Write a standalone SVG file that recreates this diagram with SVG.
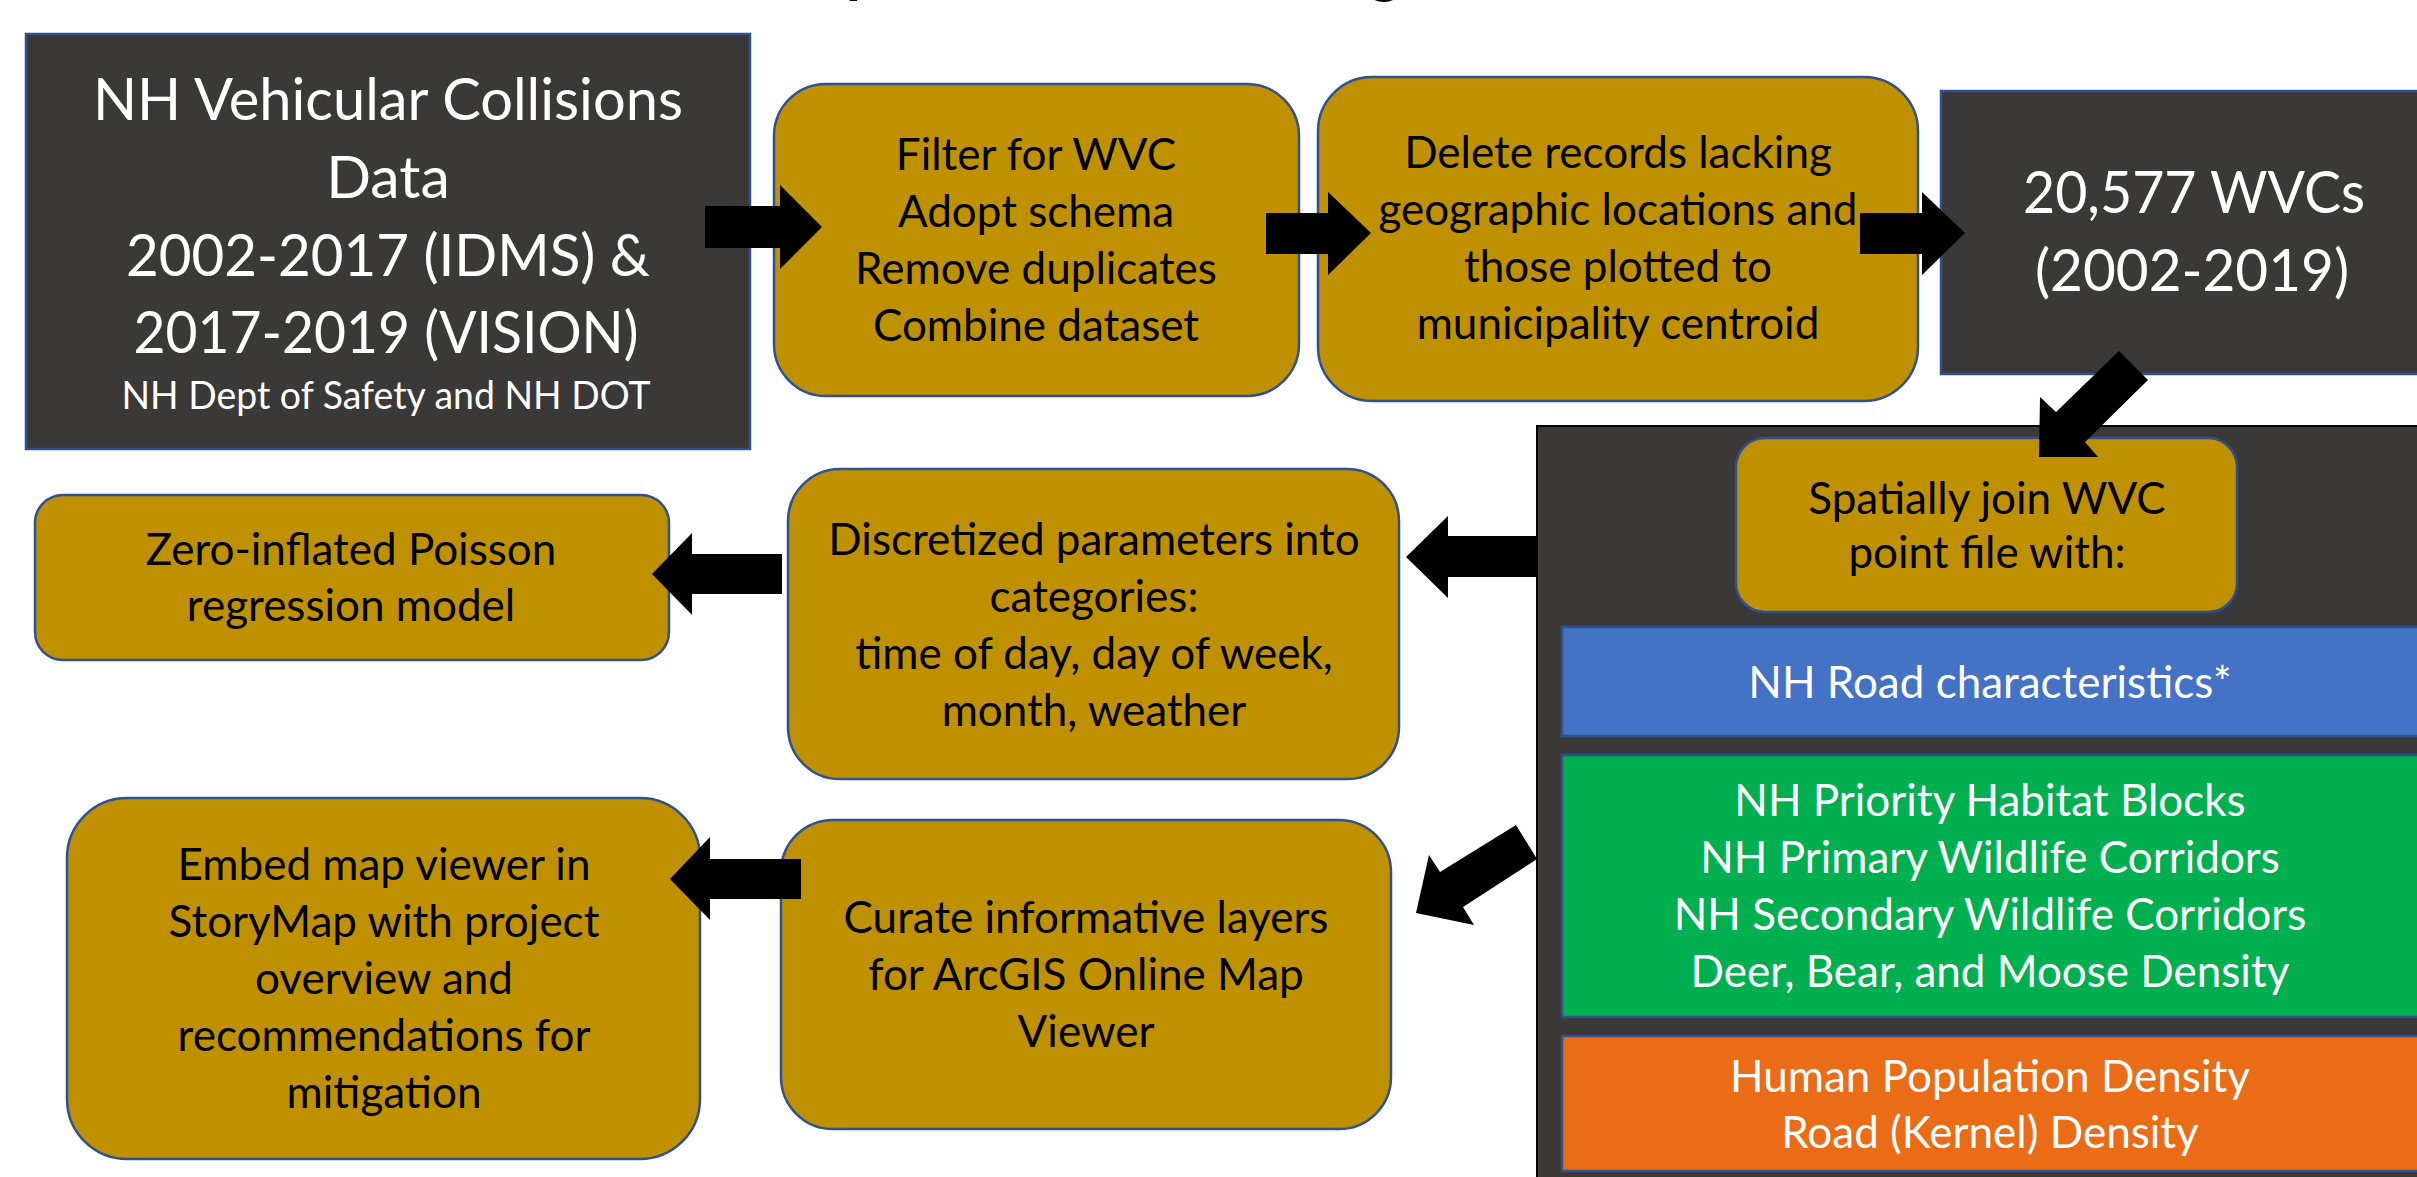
<svg xmlns="http://www.w3.org/2000/svg" width="2417" height="1177" viewBox="0 0 2417 1177">
  <style>
    .box{stroke:#2F528F;stroke-width:2.5}
    .gold{fill:#BF9000}
    .dark{fill:#3B3838}
    .t{font-family:Lato,"Liberation Sans",sans-serif;text-anchor:middle}
    .w{fill:#FFFFFF}
    .k{fill:#000000}
    .big{font-size:59px}
    .mid{font-size:44px}
    .small{font-size:38px}
    .arrow{fill:#000000}
  </style>
  <rect x="0" y="0" width="2417" height="1177" fill="#FFFFFF"/>

  <!-- title (runs off the top edge) -->
  <g id="title" font-family="Lato,'Liberation Sans',sans-serif" font-weight="bold" font-size="60" fill="#000">
    <text x="846" y="-9">p</text>
    <text x="1369" y="-9">g</text>
  </g>

  <!-- source data -->
  <g id="source">
    <rect class="box dark" x="26" y="34" width="724" height="415"/>
    <text class="t w big" x="388" y="120" textLength="590" lengthAdjust="spacingAndGlyphs">NH Vehicular Collisions</text>
    <text class="t w big" x="388" y="198">Data</text>
    <text class="t w big" x="388" y="276" textLength="524" lengthAdjust="spacingAndGlyphs">2002-2017 (IDMS) &amp;</text>
    <text class="t w big" x="386" y="353" textLength="505" lengthAdjust="spacingAndGlyphs">2017-2019 (VISION)</text>
    <text class="t w small" x="386" y="409" textLength="529" lengthAdjust="spacingAndGlyphs">NH Dept of Safety and NH DOT</text>
  </g>

  <g id="filter">
    <rect class="box gold" x="774" y="84" width="525" height="312" rx="52"/>
    <text class="t k mid" x="1036" y="170">Filter for WVC</text>
    <text class="t k mid" x="1036" y="227">Adopt schema</text>
    <text class="t k mid" x="1036" y="284">Remove duplicates</text>
    <text class="t k mid" x="1036" y="341">Combine dataset</text>
  </g>

  <g id="delete">
    <rect class="box gold" x="1318" y="77" width="600" height="324" rx="54"/>
    <text class="t k mid" x="1618" y="168">Delete records lacking</text>
    <text class="t k mid" x="1618" y="225">geographic locations and</text>
    <text class="t k mid" x="1618" y="282">those plotted to</text>
    <text class="t k mid" x="1618" y="339">municipality centroid</text>
  </g>

  <g id="wvc-count">
    <rect class="box dark" x="1941" y="91" width="600" height="283"/>
    <text class="t w big" x="2194" y="213" textLength="342" lengthAdjust="spacingAndGlyphs">20,577 WVCs</text>
    <text class="t w big" x="2192" y="291" textLength="314" lengthAdjust="spacingAndGlyphs">(2002-2019)</text>
  </g>

  <!-- spatial join panel with its layer groups -->
  <g id="spatial-join">
    <rect x="1537" y="426" width="950" height="800" fill="#3B3838" stroke="#000" stroke-width="2"/>
    <rect class="box gold" x="1736" y="438" width="501" height="174" rx="29"/>
    <text class="t k mid" x="1987" y="514">Spatially join WVC</text>
    <text class="t k mid" x="1987" y="568">point file with:</text>
  </g>

  <g id="road-layers">
    <rect class="box" x="1562" y="627" width="900" height="109" fill="#4472C4"/>
    <text class="t w mid" x="1990" y="698">NH Road characteristics*</text>
  </g>

  <g id="habitat-layers">
    <rect class="box" x="1562" y="755" width="900" height="262" fill="#00B050"/>
    <text class="t w mid" x="1990" y="816">NH Priority Habitat Blocks</text>
    <text class="t w mid" x="1990" y="873">NH Primary Wildlife Corridors</text>
    <text class="t w mid" x="1990" y="930">NH Secondary Wildlife Corridors</text>
    <text class="t w mid" x="1990" y="987">Deer, Bear, and Moose Density</text>
  </g>

  <g id="density-layers">
    <rect class="box" x="1562" y="1036" width="900" height="135" fill="#EA6C17"/>
    <text class="t w mid" x="1990" y="1092">Human Population Density</text>
    <text class="t w mid" x="1990" y="1148">Road (Kernel) Density</text>
  </g>

  <g id="discretize">
    <rect class="box gold" x="788" y="469" width="611" height="310" rx="52"/>
    <text class="t k mid" x="1094" y="555">Discretized parameters into</text>
    <text class="t k mid" x="1094" y="612">categories:</text>
    <text class="t k mid" x="1094" y="669">time of day, day of week,</text>
    <text class="t k mid" x="1094" y="726">month, weather</text>
  </g>

  <g id="zip-model">
    <rect class="box gold" x="35" y="495" width="634" height="165" rx="28"/>
    <text class="t k mid" x="351" y="565">Zero-inflated Poisson</text>
    <text class="t k mid" x="351" y="621">regression model</text>
  </g>

  <g id="curate">
    <rect class="box gold" x="781" y="820" width="610" height="309" rx="52"/>
    <text class="t k mid" x="1086" y="933">Curate informative layers</text>
    <text class="t k mid" x="1086" y="990">for ArcGIS Online Map</text>
    <text class="t k mid" x="1086" y="1047">Viewer</text>
  </g>

  <g id="storymap">
    <rect class="box gold" x="67" y="798" width="633" height="361" rx="60"/>
    <text class="t k mid" x="384" y="880">Embed map viewer in</text>
    <text class="t k mid" x="384" y="937">StoryMap with project</text>
    <text class="t k mid" x="384" y="994">overview and</text>
    <text class="t k mid" x="384" y="1051">recommendations for</text>
    <text class="t k mid" x="384" y="1108">mitigation</text>
  </g>

  <!-- block arrows between steps -->
  <g id="connectors" class="arrow">
    <polygon points="705,206 780,206 780,185 822,227 780,269 780,248 705,248"/>
    <polygon points="1266,213 1328,213 1328,192 1371,233 1328,275 1328,254 1266,254"/>
    <polygon points="1860,213 1922,213 1922,192 1965,233 1922,275 1922,254 1860,254"/>
    <polygon points="2119,351 2148,380 2085,442 2098,457 2039,457 2040,397 2056,412"/>
    <polygon points="1537,536 1448,536 1448,516 1406,557 1448,598 1448,577 1537,577"/>
    <polygon points="782,554 692,554 692,533 652,574 692,615 692,594 782,594"/>
    <polygon points="801,859 710,859 710,837 670,879 710,920 710,899 801,899"/>
    <polygon points="1516,825 1537,859 1463,907 1474,925 1416,913 1429,855 1440,872"/>
  </g>
</svg>
